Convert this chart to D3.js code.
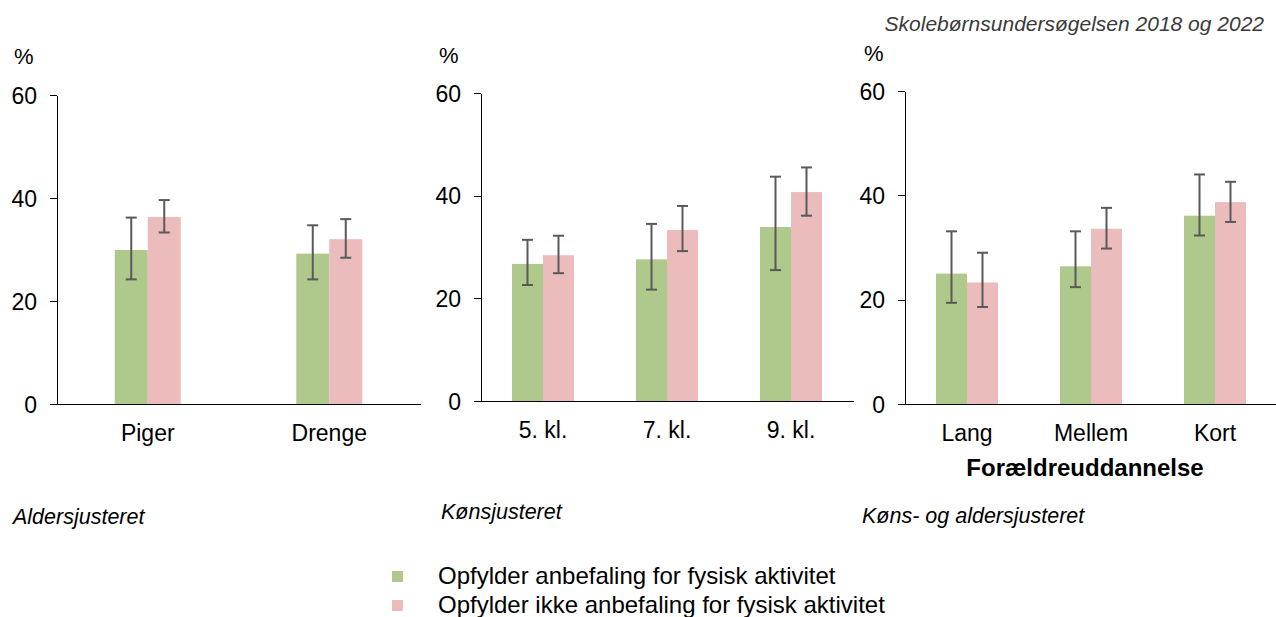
<!DOCTYPE html>
<html>
<head>
<meta charset="utf-8">
<script src="https://cdn.jsdelivr.net/npm/d3@7"></script>
<style>
body { margin: 0; background: #fff; }
svg { font-family: Arial, "Liberation Sans", sans-serif; }
.axis path, .axis line { stroke: #000; stroke-width: 1.3; shape-rendering: crispEdges; }
.axis text { fill: #000; }
</style>
</head>
<body>
<div id="chart"></div>
<script>
// data
var sexCats = ["Piger", "Drenge"];
var sexYes = [29.9, 29.2];
var sexYesLo = [24.2, 24.2];
var sexYesHi = [36.2, 34.7];
var sexNo = [36.3, 32.0];
var sexNoLo = [33.3, 28.4];
var sexNoHi = [39.6, 35.9];

var gradeCats = ["5. kl.", "7. kl.", "9. kl."];
var gradeYes = [26.7, 27.6, 33.9];
var gradeYesLo = [22.6, 21.7, 25.5];
var gradeYesHi = [31.4, 34.5, 43.7];
var gradeNo = [28.4, 33.3, 40.7];
var gradeNoLo = [24.9, 29.2, 36.1];
var gradeNoHi = [32.2, 38.0, 45.5];

var eduCats = ["Lang", "Mellem", "Kort"];
var eduYes = [25.0, 26.4, 36.1];
var eduYesLo = [19.4, 22.4, 32.3];
var eduYesHi = [33.1, 33.1, 44.0];
var eduNo = [23.3, 33.6, 38.7];
var eduNoLo = [18.6, 29.8, 34.9];
var eduNoHi = [29.0, 37.6, 42.6];

var yTicks = [0, 20, 40, 60];
var seriesNames = ["Opfylder anbefaling for fysisk aktivitet", "Opfylder ikke anbefaling for fysisk aktivitet"];
var notes = ["Aldersjusteret", "Kønsjusteret", "Køns- og aldersjusteret"];

var width = 1276, height = 617;
var colors = ["#aec98b", "#ecbcbc"];

var svg = d3.select("#chart").append("svg")
    .attr("width", width)
    .attr("height", height);

// source line top right
svg.append("text")
    .attr("x", 1264).attr("y", 31)
    .attr("text-anchor", "end")
    .attr("font-size", 21).attr("font-style", "italic")
    .attr("fill", "#3a3a3a")
    .text("Skolebørnsundersøgelsen 2018 og 2022");

var panels = [
  {cats: sexCats, yes: sexYes, yesLo: sexYesLo, yesHi: sexYesHi, no: sexNo, noLo: sexNoLo, noHi: sexNoHi,
   x0: 57, x1: 420, top: 95, bottom: 404, pct: [14, 64], labelY: 441, note: notes[0], noteXY: [13, 524], barW: 33},
  {cats: gradeCats, yes: gradeYes, yesLo: gradeYesLo, yesHi: gradeYesHi, no: gradeNo, noLo: gradeNoLo, noHi: gradeNoHi,
   x0: 481, x1: 853, top: 93, bottom: 401, pct: [439, 63], labelY: 438, note: notes[1], noteXY: [441, 519], barW: 31},
  {cats: eduCats, yes: eduYes, yesLo: eduYesLo, yesHi: eduYesHi, no: eduNo, noLo: eduNoLo, noHi: eduNoHi,
   x0: 905, x1: 1277, top: 91, bottom: 404, pct: [864, 61], labelY: 441, note: notes[2], noteXY: [862, 523], barW: 31}
];

panels.forEach(function(p, pi) {
    var x_scale = d3.scaleBand()
        .domain(p.cats)
        .range([p.x0, p.x1]);

    var y_scale = d3.scaleLinear()
        .domain([0, 60])
        .range([p.bottom, p.top]);

    var rows = p.cats.map(function(c, i) {
        return [
          {cat: c, s: 0, v: p.yes[i], lo: p.yesLo[i], hi: p.yesHi[i]},
          {cat: c, s: 1, v: p.no[i], lo: p.noLo[i], hi: p.noHi[i]}
        ];
    }).flat();

    var bx = function(d) {
        return x_scale(d.cat) + x_scale.bandwidth() / 2 + (d.s - 1) * p.barW;
    };

    var g = svg.append("g");

    g.selectAll("rect.bar")
        .data(rows).enter().append("rect")
        .attr("class", "bar")
        .attr("fill", d => colors[d.s])
        .attr("x", bx)
        .attr("y", d => y_scale(d.v))
        .attr("width", p.barW)
        .attr("height", d => y_scale(0) - y_scale(d.v));

    // error bars
    var eb = g.selectAll("g.err").data(rows).enter().append("g")
        .attr("class", "err")
        .attr("stroke", "#595959")
        .attr("stroke-width", 2);
    eb.append("line")
        .attr("x1", d => bx(d) + p.barW / 2).attr("x2", d => bx(d) + p.barW / 2)
        .attr("y1", d => y_scale(d.lo)).attr("y2", d => y_scale(d.hi));
    eb.append("line")
        .attr("x1", d => bx(d) + p.barW / 2 - 5.5).attr("x2", d => bx(d) + p.barW / 2 + 5.5)
        .attr("y1", d => y_scale(d.lo)).attr("y2", d => y_scale(d.lo));
    eb.append("line")
        .attr("x1", d => bx(d) + p.barW / 2 - 5.5).attr("x2", d => bx(d) + p.barW / 2 + 5.5)
        .attr("y1", d => y_scale(d.hi)).attr("y2", d => y_scale(d.hi));

    // y axis
    var ya = svg.append("g")
        .attr("class", "axis")
        .attr("transform", `translate(${p.x0},0)`)
        .call(d3.axisLeft(y_scale).tickValues(yTicks).tickSize(7).tickSizeOuter(0).tickPadding(13));
    ya.selectAll("text").attr("font-size", 23).attr("dy", "0.36em");

    // baseline + category labels
    var xa = svg.append("g")
        .attr("class", "axis")
        .attr("transform", `translate(0,${p.bottom})`)
        .call(d3.axisBottom(x_scale).tickSize(0).tickSizeOuter(0).tickPadding(0));
    xa.selectAll("text")
        .attr("font-size", 23)
        .attr("y", p.labelY - p.bottom)
        .attr("dy", 0);

    svg.append("text")
        .attr("x", p.pct[0]).attr("y", p.pct[1])
        .attr("font-size", 22)
        .text("%");

    svg.append("text")
        .attr("x", p.noteXY[0]).attr("y", p.noteXY[1])
        .attr("font-size", 21.5).attr("font-style", "italic")
        .text(p.note);

    if (pi == 2) {
        svg.append("text")
            .attr("x", (p.x0 + p.x1) / 2 - 6).attr("y", 476)
            .attr("text-anchor", "middle")
            .attr("font-size", 24).attr("font-weight", "bold")
            .text("Forældreuddannelse");
    }
});

// legend
var lg = svg.selectAll("g.legend")
    .data(seriesNames).enter().append("g")
    .attr("class", "legend")
    .attr("transform", (d, i) => `translate(392,${571 + i * 29})`);
lg.append("rect")
    .attr("width", 11).attr("height", 11)
    .attr("fill", (d, i) => colors[i]);
lg.append("text")
    .attr("x", 46).attr("y", 13)
    .attr("font-size", 24)
    .text(d => d);
</script>
</body>
</html>
